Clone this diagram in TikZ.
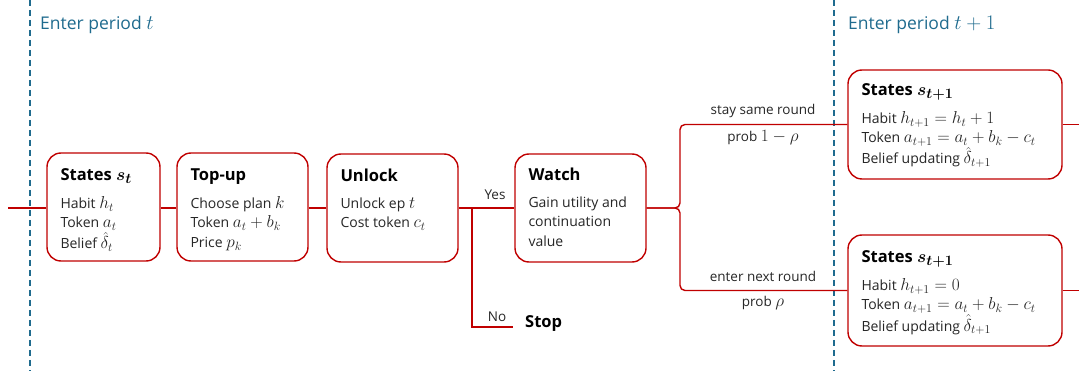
\documentclass[tikz,border=0pt]{standalone}
\usepackage{fontspec}
\setmainfont{Open Sans}
\usetikzlibrary{calc}
% larger math relative to the sans text
\DeclareMathSizes{14}{16.5}{12}{9}
\DeclareMathSizes{13.5}{16}{11.5}{9}
\DeclareMathSizes{16.5}{18.5}{13.5}{10}
\DeclareMathSizes{17.5}{20.5}{14.5}{10.5}
\definecolor{flowred}{HTML}{C00000}
\definecolor{periodblue}{HTML}{1F6B8E}
\definecolor{inktext}{HTML}{262626}
\tikzset{
  stagebox/.style={draw=flowred, line width=1.4pt, rounded corners=14pt,
    fill=white, inner sep=0pt, minimum width=#1, minimum height=108pt},
  stagebox/.default=131pt,
  flow/.style={draw=flowred, line width=1.4pt},
  boxtitle/.style={anchor=base west, inner sep=0pt, text=black,
    font=\fontsize{16.5}{19}\selectfont\bfseries\boldmath},
  boxtext/.style={anchor=north west, align=left, inner sep=0pt, text=inktext,
    font=\fontsize{14}{19.5}\selectfont},
  periodline/.style={draw=periodblue, line width=1.2pt, dash pattern=on 6pt off 4pt},
  periodtext/.style={anchor=base west, inner sep=0pt, text=periodblue,
    font=\fontsize{17.5}{20}\selectfont},
  edgelabel/.style={anchor=base, inner sep=0pt, text=inktext,
    font=\fontsize{13.5}{15}\selectfont},
}
\begin{document}
\begin{tikzpicture}[x=1pt,y=-1pt]
\useasboundingbox (0,0) rectangle (1079,371);

% period boundaries
\draw[periodline] (30,0) -- (30,371);
\draw[periodline] (834,0) -- (834,371);
\node[periodtext] (pt)  at (40,30)  {Enter period $t$};
\node[periodtext] (pt1) at (848,30) {Enter period $t+1$};

% stage boxes
\node[stagebox=113pt] (st) at (103.5,207) {};
\node[stagebox] (up) at (242.5,207) {};
\node[stagebox] (ul) at (392.5,208) {};
\node[stagebox] (wa) at (580.5,208) {};
\node[stagebox=214pt, minimum height=109pt] (n1) at (955,124.5) {};
\node[stagebox=214pt, minimum height=111pt] (n2) at (955,290.5) {};

% box contents
\node[boxtitle] at ($(st.north west)+(14,28)$) {States $s_t$};
\node[boxtext]  at ($(st.north west)+(14,44)$) {Habit $h_t$\\Token $a_t$\\[1.5pt]Belief $\smash{\hat{\delta}_t}$};
\node[boxtitle] at ($(up.north west)+(14,28)$) {Top-up};
\node[boxtext]  at ($(up.north west)+(14,44)$) {Choose plan $k$\\Token $a_t+b_k$\\Price $p_k$};
\node[boxtitle] at ($(ul.north west)+(14,28)$) {Unlock};
\node[boxtext]  at ($(ul.north west)+(14,44)$) {Unlock ep $t$\\Cost token $c_t$};
\node[boxtitle] at ($(wa.north west)+(14,27)$) {Watch};
\node[boxtext]  at ($(wa.north west)+(14,43)$) {Gain utility and\\continuation\\value};
\node[boxtitle] at ($(n1.north west)+(14,26)$) {States $s_{t+1}$};
\node[boxtext]  at ($(n1.north west)+(14,42)$) {Habit $h_{t+1}=h_t+1$\\Token $a_{t+1}=a_t+b_k-c_t$\\[1.5pt]Belief updating $\smash{\hat{\delta}_{t+1}}$};
\node[boxtitle] at ($(n2.north west)+(14,28)$) {States $s_{t+1}$};
\node[boxtext]  at ($(n2.north west)+(14,44)$) {Habit $h_{t+1}=0$\\Token $a_{t+1}=a_t+b_k-c_t$\\[1.5pt]Belief updating $\smash{\hat{\delta}_{t+1}}$};

% free ends and junctions
\coordinate (in)   at (8,208);
\coordinate (yn)   at (472,208);
\coordinate (nend) at (513,327);
\coordinate (split) at (680,208);
\coordinate (o1) at (1079,124.5);
\coordinate (o2) at (1079,290.5);
\node[anchor=base west, inner sep=0pt, font=\fontsize{16.5}{19}\selectfont\bfseries] (stop) at (525,327) {Stop};

% flow
\draw[flow] (in) -- (st.west|-in);
\draw[flow] (st.east|-in) -- (up.west|-in);
\draw[flow] (up.east|-in) -- (ul.west|-in);
\draw[flow] (ul.east) -- (wa.west);
\draw[flow] (yn) |- (nend);
\draw[flow, rounded corners=5pt] (wa.east) -- (split) |- (n1.west);
\draw[flow, rounded corners=5pt] (wa.east) -- (split) |- (n2.west);
\draw[flow] (n1.east) -- (o1);
\draw[flow] (n2.east) -- (o2);

% branch labels
\node[edgelabel] at (495,200) {Yes};
\node[edgelabel] at (497,322) {No};
\node[edgelabel] at (763,115) {stay same round};
\node[edgelabel] at (763,142) {prob $1-\rho$};
\node[edgelabel] at (763,282) {enter next round};
\node[edgelabel] at (763,307) {prob $\rho$};
\end{tikzpicture}
\end{document}
